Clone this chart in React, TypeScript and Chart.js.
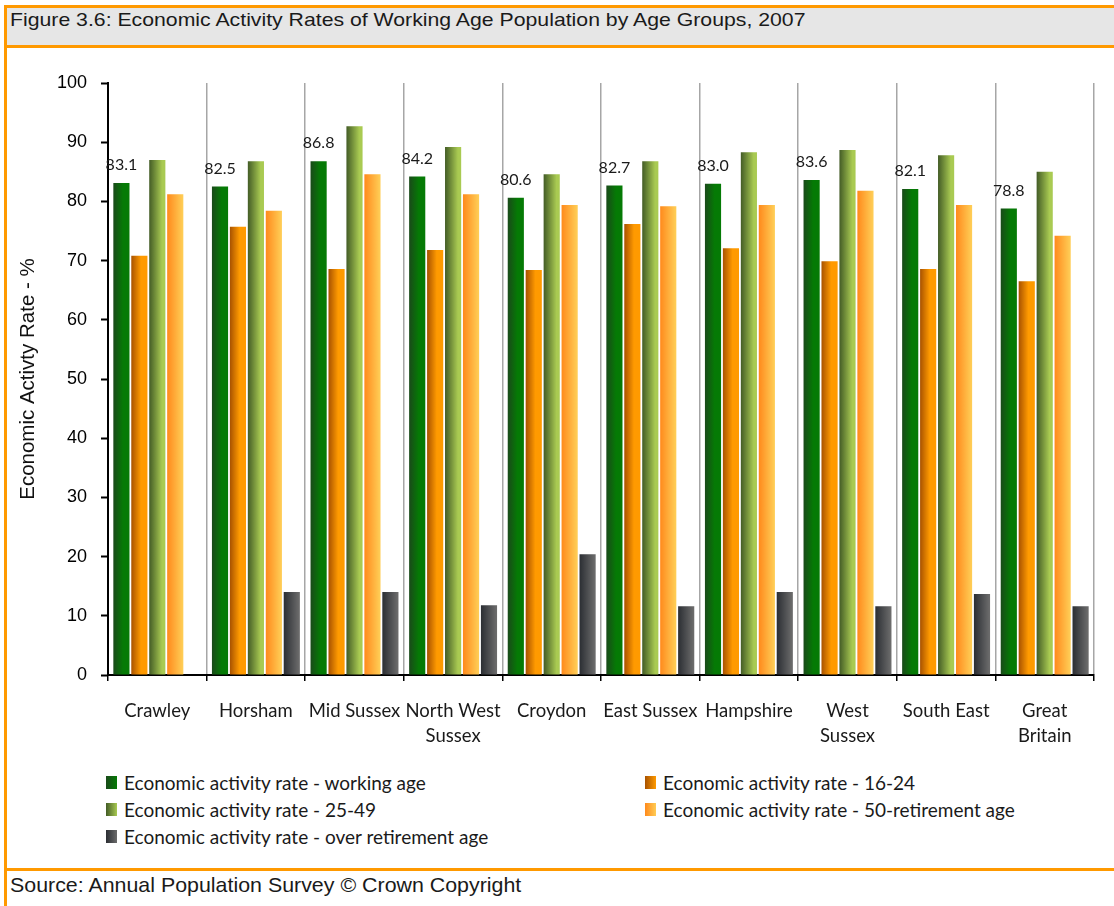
import React, { useEffect, useRef } from "react";
import { Chart, registerables } from "chart.js";

Chart.register(...registerables);

// ---------- data ----------
const categories: string[][] = [
  ["Crawley"],
  ["Horsham"],
  ["Mid Sussex"],
  ["North West", "Sussex"],
  ["Croydon"],
  ["East Sussex"],
  ["Hampshire"],
  ["West", "Sussex"],
  ["South East"],
  ["Great", "Britain"],
];

const seriesNames = [
  "Economic activity rate - working age",
  "Economic activity rate - 16-24",
  "Economic activity rate - 25-49",
  "Economic activity rate - 50-retirement age",
  "Economic activity rate - over retirement age",
];

const workingAge = [83.1, 82.5, 86.8, 84.2, 80.6, 82.7, 83.0, 83.6, 82.1, 78.8];
const age16to24 = [70.8, 75.7, 68.6, 71.8, 68.4, 76.2, 72.1, 69.9, 68.6, 66.5];
const age25to49 = [87.0, 86.8, 92.7, 89.2, 84.6, 86.8, 88.3, 88.7, 87.8, 85.0];
const age50toRetirement = [81.2, 78.4, 84.6, 81.2, 79.4, 79.2, 79.4, 81.8, 79.4, 74.2];
const overRetirement: (number | null)[] = [null, 14.0, 14.0, 11.8, 20.4, 11.6, 14.0, 11.6, 13.7, 11.6];

const seriesValues = [workingAge, age16to24, age25to49, age50toRetirement, overRetirement];

const yMin = 0;
const yMax = 100;
const yStep = 10;

const titleText =
  "Figure 3.6: Economic Activity Rates of Working Age Population by Age Groups, 2007";
const yAxisTitle = "Economic Activty Rate - %";
const sourceText = "Source: Annual Population Survey \u00A9 Crown Copyright";

// ---------- styles ----------
const ORANGE = "#ff9900";
const seriesColors: [string, string][] = [
  ["#1a4a1a", "#057a05"],
  ["#a85200", "#ff9a00"],
  ["#435c26", "#a9ca52"],
  ["#ff8a1c", "#ffcc55"],
  ["#2b2e33", "#6b6b6b"],
];
const gradientMid = [0.6, 0.6, 0.8, 0.95, 0.95];

const ARIAL = '"Liberation Sans", Arial, sans-serif';
const CALIBRI = 'Lato, "Open Sans", sans-serif';

const gradientPlugin = {
  id: "barGradient",
  beforeDatasetsDraw(chart: any) {
    const ctx = chart.ctx as CanvasRenderingContext2D;
    chart.data.datasets.forEach((_ds: any, di: number) => {
      const meta = chart.getDatasetMeta(di);
      const [c0, c1] = seriesColors[di];
      meta.data.forEach((el: any) => {
        const { x, width } = el.getProps(["x", "width"], true);
        if (!isFinite(x) || !isFinite(width)) return;
        const g = ctx.createLinearGradient(x - width / 2, 0, x + width / 2, 0);
        g.addColorStop(0, c0);
        g.addColorStop(gradientMid[di], c1);
        g.addColorStop(1, c1);
        el.options = { ...el.options, backgroundColor: g };
      });
    });
  },
};

const valueLabelPlugin = {
  id: "valueLabels",
  afterDatasetsDraw(chart: any) {
    const ctx = chart.ctx as CanvasRenderingContext2D;
    const meta = chart.getDatasetMeta(0);
    const data = chart.data.datasets[0].data;
    ctx.save();
    ctx.font = `16px ${CALIBRI}`;
    ctx.fillStyle = "#1a1a1a";
    ctx.textAlign = "center";
    ctx.textBaseline = "middle";
    meta.data.forEach((el: any, i: number) => {
      const v = data[i];
      if (v == null) return;
      ctx.fillText(Number(v).toFixed(1), el.x, el.y - 18);
    });
    ctx.restore();
  },
};

function BarChart() {
  const ref = useRef<HTMLCanvasElement | null>(null);
  useEffect(() => {
    let chart: Chart | null = null;
    let cancelled = false;
    const make = () => {
      if (cancelled || !ref.current) return;
      chart = new Chart(ref.current, {
        type: "bar",
        data: {
          labels: categories as any,
          datasets: seriesValues.map((vals, i) => ({
            label: seriesNames[i],
            data: vals as any,
            backgroundColor: seriesColors[i][1],
            borderWidth: 0,
            categoryPercentage: 0.91,
            barPercentage: 0.9,
          })),
        },
        options: {
          responsive: false,
          animation: false,
          events: [],
          layout: { padding: { top: 35, right: 20, left: 0, bottom: 0 } },
          plugins: {
            legend: { display: false },
            tooltip: { enabled: false },
            title: { display: false },
          },
          scales: {
            x: {
              offset: true,
              grid: {
                offset: true,
                color: "#a6a6a6",
                lineWidth: 1.5,
                drawTicks: true,
                tickLength: 6,
                tickColor: "#000",
                tickWidth: 1.5,
              },
              border: { display: true, color: "#000", width: 2 },
              ticks: {
                autoSkip: false,
                maxRotation: 0,
                minRotation: 0,
                padding: 17.5,
                color: "#1a1a1a",
                font: { family: CALIBRI, size: 18.5, lineHeight: 1.34 },
              },
              afterFit: (s: any) => {
                s.height = 73;
              },
            },
            y: {
              min: yMin,
              max: yMax,
              ticks: {
                stepSize: yStep,
                padding: 14,
                color: "#000",
                font: { family: ARIAL, size: 18 },
              },
              grid: {
                drawOnChartArea: false,
                drawTicks: true,
                tickLength: 7,
                tickColor: "#000",
                tickWidth: 2,
              },
              border: { display: true, color: "#000", width: 2 },
              title: {
                display: true,
                text: yAxisTitle,
                color: "#111",
                font: { family: ARIAL, size: 20.5 },
                padding: { top: 9, bottom: 0 },
              },
              afterFit: (s: any) => {
                s.width = 101;
              },
            },
          },
        },
        plugins: [gradientPlugin, valueLabelPlugin],
      });
    };
    const fontsReady = (document as any).fonts
      ? Promise.all([
          (document as any).fonts.load(`16px Lato`),
          (document as any).fonts.load(`18px "Liberation Sans"`),
        ]).catch(() => null)
      : Promise.resolve(null);
    fontsReady.then(make);
    return () => {
      cancelled = true;
      if (chart) chart.destroy();
    };
  }, []);
  return (
    <canvas
      ref={ref}
      width={1107}
      height={700}
      style={{ position: "absolute", left: 7, top: 48, width: 1107, height: 700 }}
    />
  );
}

export default function App() {
  return (
    <div
      style={{
        position: "fixed",
        left: 0,
        top: 0,
        width: 1114,
        height: 906,
        background: "#fff",
        overflow: "hidden",
      }}
    >
      {/* frame */}
      <div style={{ position: "absolute", left: 4, top: 5, width: 3, height: 901, background: ORANGE }} />
      <div style={{ position: "absolute", left: 4, top: 5, right: 0, height: 2.5, background: ORANGE }} />
      <div style={{ position: "absolute", left: 7, top: 7.5, right: 0, height: 37.5, background: "#e6e6e6" }} />
      <div style={{ position: "absolute", left: 4, top: 45, right: 0, height: 2.5, background: ORANGE }} />
      <div style={{ position: "absolute", left: 4, top: 868, right: 0, height: 3, background: ORANGE }} />

      {/* title */}
      <div
        style={{
          position: "absolute",
          left: 10,
          top: 9,
          fontFamily: ARIAL,
          fontSize: 19,
          lineHeight: "22px",
          color: "#1a1a1a",
          whiteSpace: "nowrap",
          transform: "scaleX(1.118)",
          transformOrigin: "left center",
        }}
      >
        {titleText}
      </div>

      <BarChart />

      {/* legend */}
      {seriesNames.map((name, i) => {
        const col = i % 2;
        const row = Math.floor(i / 2);
        const boxLeft = col === 0 ? 106 : 645;
        const centerY = 782 + row * 27;
        return (
          <div
            key={name}
            style={{
              position: "absolute",
              left: boxLeft,
              top: centerY - 12,
              height: 24,
              display: "flex",
              alignItems: "center",
              whiteSpace: "nowrap",
              fontFamily: CALIBRI,
              fontSize: 19,
              color: "#1a1a1a",
            }}
          >
            <span
              style={{
                display: "inline-block",
                width: 11,
                height: 13,
                marginRight: 7,
                background: `linear-gradient(to right, ${seriesColors[i][0]}, ${seriesColors[i][1]})`,
              }}
            />
            <span>{name}</span>
          </div>
        );
      })}

      {/* source */}
      <div
        style={{
          position: "absolute",
          left: 10,
          top: 873.5,
          fontFamily: ARIAL,
          fontSize: 21,
          lineHeight: "22px",
          color: "#1a1a1a",
          whiteSpace: "nowrap",
          transform: "scaleX(1.018)",
          transformOrigin: "left center",
        }}
      >
        {sourceText}
      </div>
    </div>
  );
}
